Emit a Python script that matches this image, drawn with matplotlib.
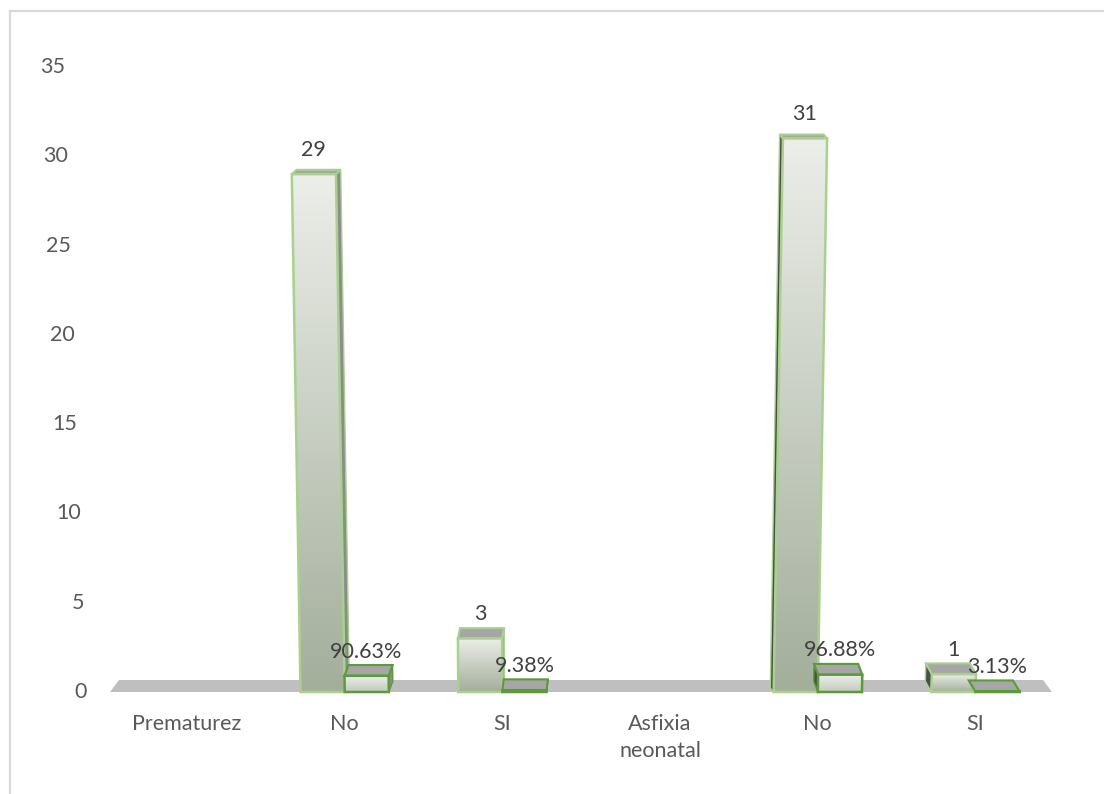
import numpy as np
import matplotlib
matplotlib.use("Agg")
import matplotlib.pyplot as plt
from matplotlib.patches import Polygon
from matplotlib.colors import LinearSegmentedColormap

# datos
categorias = ["Prematurez", "No", "SI", "Asfixia\nneonatal", "No", "SI"]
frecuencia = [None, 29, 3, None, 31, 1]
porcentaje = [None, 0.9063, 0.0938, None, 0.9688, 0.0313]
etiq_pct = [None, "90.63%", "9.38%", None, "96.88%", "3.13%"]
yticks = [0, 5, 10, 15, 20, 25, 30, 35]

plt.rcParams['font.family'] = ['Lato', 'DejaVu Sans']
TXT = '#595959'
TXT2 = '#404040'
FS = 15.5

W, H = 1104, 794
fig = plt.figure(figsize=(W / 100, H / 100), dpi=100)
L, R, B, T = 110, 1052, 692, 67
C0, DC = 187, 157.7          # centro de la primera categoria y paso, en pixeles
ax = fig.add_axes([L / W, 1 - B / H, (R - L) / W, (B - T) / H])
x0 = (L - C0) / DC
x1 = (R - C0) / DC
ax.set_xlim(x0, x1)
ax.set_ylim(0, 35)
for s in ax.spines.values():
    s.set_visible(False)

pxx = (R - L) / (x1 - x0)   # pixeles por unidad x
pxy = (B - T) / 35.0        # pixeles por unidad y

# piso gris
piso = Polygon([(x0, 0), (x1, 0), ((1043 - C0) / DC, 12 / pxy), ((119 - C0) / DC, 12 / pxy)],
               closed=True, fc='#bfbfbf', ec='none', zorder=1)
ax.add_patch(piso)

cm1 = LinearSegmentedColormap.from_list('g1', ['#a3ae9b', '#eceee9'])
cm2 = LinearSegmentedColormap.from_list('g2', ['#c3c9bd', '#eef0ec'])
grad = np.linspace(0, 1, 200).reshape(-1, 1)


def barra(c, v, w, cmap, ec, z):
    cx_px = C0 + c * DC
    s = (cx_px - 560) * 0.00127 * v / pxx          # inclinacion por perspectiva
    dx = (600 - cx_px) * 0.017 / pxx               # profundidad horizontal
    dy = max(11 - 0.23 * v, 3) / pxy               # profundidad vertical
    a, b = c - w / 2, c + w / 2
    # cara lateral
    if dx > 0:
        lado = [(b, 0), (b + s, v), (b + s + dx, v + dy), (b + dx, dy)]
        col = '#8c8c8c'
    else:
        lado = [(a, 0), (a + s, v), (a + s + dx, v + dy), (a + dx, dy)]
        col = '#4d4d4d'
    ax.add_patch(Polygon(lado, closed=True, fc=col, ec=ec, lw=1.0, zorder=z, clip_on=False))
    # cara superior
    tapa = [(a + s, v), (b + s, v), (b + s + dx, v + dy), (a + s + dx, v + dy)]
    ax.add_patch(Polygon(tapa, closed=True, fc='#a6a6a6', ec=ec, lw=1.5, zorder=z, clip_on=False))
    # cara frontal con degradado
    frente = Polygon([(a, 0), (b, 0), (b + s, v), (a + s, v)], closed=True,
                     fill=False, ec=ec, lw=1.8, zorder=z + 0.2, clip_on=False)
    ax.add_patch(frente)
    im = ax.imshow(grad, extent=[min(a, a + s), max(b, b + s), 0, v], origin='lower',
                   aspect='auto', cmap=cmap, zorder=z + 0.1, interpolation='bilinear')
    im.set_clip_path(frente)
    return c + s


ancho = 0.28
for i in range(len(categorias)):
    if frecuencia[i] is None:
        continue
    xt = barra(i - ancho / 2, frecuencia[i], ancho, cm1, '#a9d18e', 3)
    ax.annotate(str(frecuencia[i]), (xt, frecuencia[i]), xytext=(0, 17.5),
                textcoords='offset points', ha='center', va='center', fontsize=FS, color=TXT2, zorder=10)
    xt = barra(i + ancho / 2, porcentaje[i], ancho, cm2, '#5b9b3a', 4)
    ax.annotate(etiq_pct[i], (xt, porcentaje[i]), xytext=(0, 17.5),
                textcoords='offset points', ha='center', va='center', fontsize=FS, color=TXT2, zorder=10)

ax.set_xlim(x0, x1)
ax.set_ylim(0, 35)

# eje x
ax.set_xticks(range(len(categorias)))
ax.set_xticklabels(categorias, fontsize=FS, color=TXT)
for t in ax.get_xticklabels():
    t.set_linespacing(1.4)
ax.tick_params(axis='x', length=0, pad=16)

# eje y (inclinado por la perspectiva)
ax.set_yticks([])
tr = ax.get_yaxis_transform()
for v in yticks:
    xr = 65 + (35 - v) * 0.63
    ax.text((xr - L) / (R - L), v, str(v), transform=tr, ha='right', va='center',
            fontsize=FS, color=TXT, clip_on=False)

# borde del grafico
fig.patches.append(plt.Rectangle((10 / W, -0.02), 1.0, 1 - 11 / H + 0.02, transform=fig.transFigure,
                                 fill=False, ec='#d9d9d9', lw=1.6))

fig.savefig('out.png', dpi=100)
